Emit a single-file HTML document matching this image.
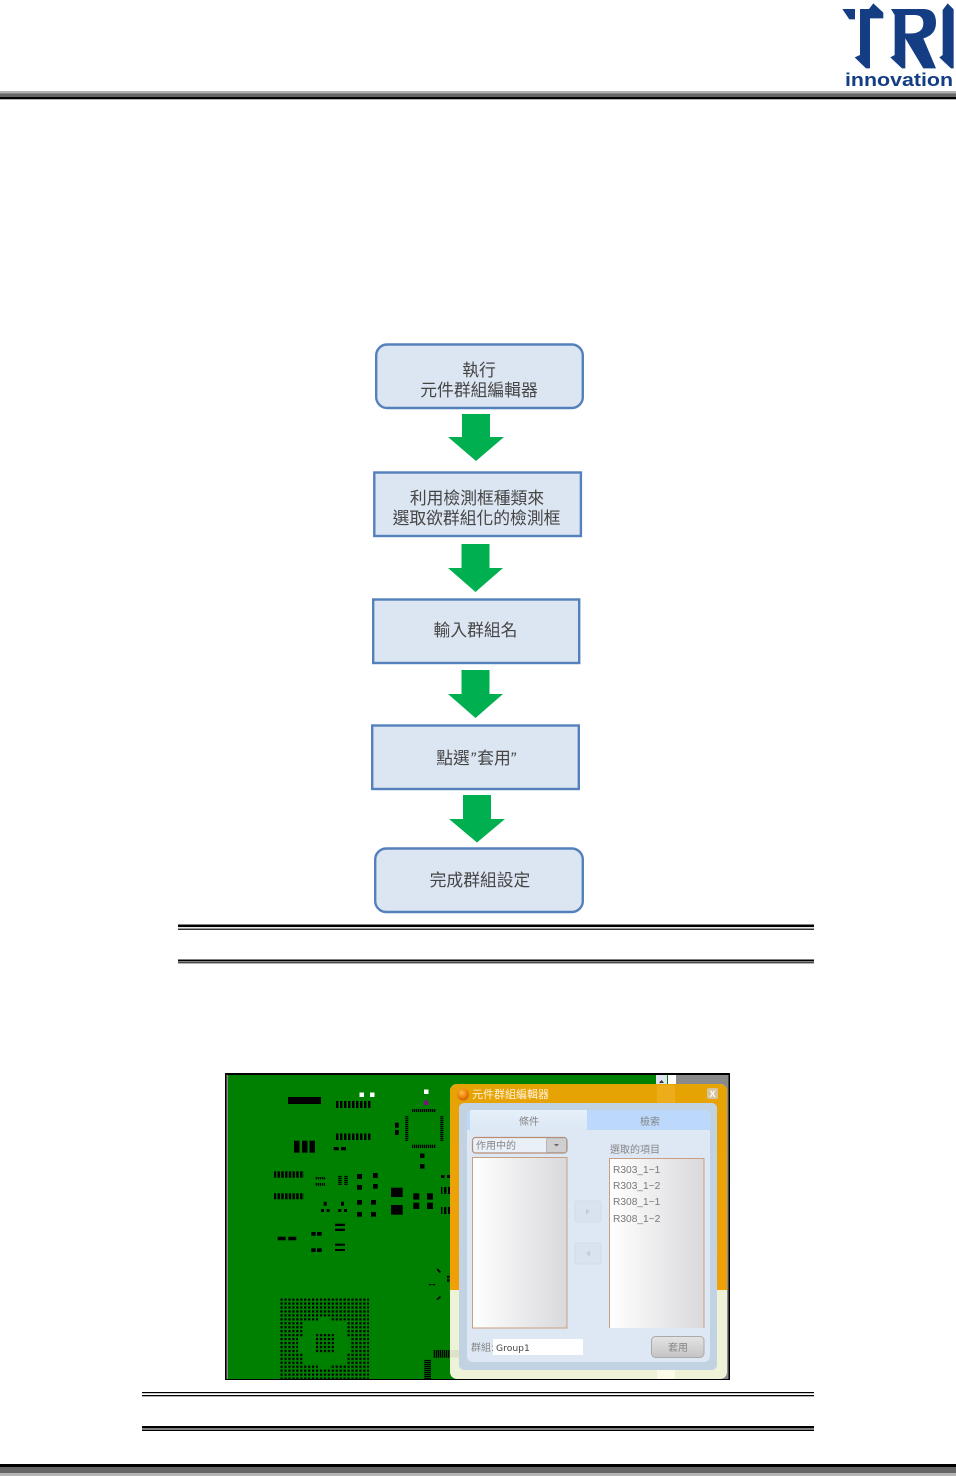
<!DOCTYPE html>
<html lang="zh-Hant">
<head>
<meta charset="utf-8">
<title>元件群組編輯器</title>
<style>
html,body{margin:0;padding:0;background:#fff;width:956px;height:1476px;overflow:hidden}
svg{display:block}
text{font-family:"Liberation Sans","Noto Sans CJK TC",sans-serif}
.t{font-size:16.8px;fill:#454545;text-anchor:middle}
.d{font-size:10px;fill:#858585}
.r{font-size:10.2px;fill:#777}
</style>
</head>
<body>
<svg width="956" height="1476" viewBox="0 0 956 1476" xmlns="http://www.w3.org/2000/svg">
<defs>
<pattern id="pv" width="4" height="10" patternUnits="userSpaceOnUse"><rect width="2.4" height="10" fill="#000"/></pattern>
<pattern id="pv3" width="3.75" height="10" patternUnits="userSpaceOnUse"><rect width="2.5" height="10" fill="#000"/></pattern>
<pattern id="pt" width="2" height="10" patternUnits="userSpaceOnUse"><rect width="1.3" height="10" fill="#000"/></pattern>
<pattern id="ph" width="10" height="2" patternUnits="userSpaceOnUse"><rect width="10" height="1.3" fill="#000"/></pattern>
<pattern id="bga" x="280.500" y="1298.500" width="3.940" height="3.950" patternUnits="userSpaceOnUse"><rect width="2.200" height="2.200" fill="#000"/></pattern>
<linearGradient id="lg"><stop offset="0" stop-color="#fff"/><stop offset="1" stop-color="#d9d9dc"/></linearGradient>
<linearGradient id="bt" x2="0" y2="1"><stop offset="0" stop-color="#e4e4e4"/><stop offset=".5" stop-color="#d4d4d4"/><stop offset="1" stop-color="#c4c4c4"/></linearGradient>
<linearGradient id="tb" x2="0" y2="1"><stop offset="0" stop-color="#e6f0fa"/><stop offset="1" stop-color="#dde8f5"/></linearGradient>
<linearGradient id="og" x2="0" y2="1"><stop offset="0" stop-color="#e6a304"/><stop offset="1" stop-color="#f1a007"/></linearGradient>
<radialGradient id="ball" cx=".4" cy=".35" r=".7"><stop offset="0" stop-color="#ffc040"/><stop offset=".6" stop-color="#ee7f0c"/><stop offset="1" stop-color="#c85c00"/></radialGradient>
</defs>

<!-- header -->
<g transform="translate(840 0) scale(.3333)" fill="#143d84">
<path d="M7 27H45V58H28Z"/>
<path d="M60 27H87L100 10L130 38V55H90V205H78L44 172L60 165Z"/>
<path fill-rule="evenodd" d="M153 27H250Q288 27 288 68Q288 105 250 115L288 205H250L196 115V205H186L151 172L164 165V45ZM196 45V100Q250 105 250 70Q250 45 223 45Z"/>
<path d="M323 10L341 28V205H333L298 172L308 165V30Z"/>
</g>
<text x="845" y="86" font-size="18.5" font-weight="bold" fill="#143d84" textLength="108" lengthAdjust="spacingAndGlyphs">innovation</text>
<rect x="0" y="91" width="956" height="2.300" fill="#b0b0b0"/>
<rect x="0" y="93.300" width="956" height="3.700" fill="#666"/>
<rect x="0" y="97" width="956" height="2.300" fill="#000"/>

<!-- flowchart -->
<g fill="#dce6f2" stroke="#5480bb" stroke-width="2.400">
<rect x="376.200" y="344.500" width="206.600" height="63.500" rx="11"/>
<rect x="374.300" y="472.500" width="206.600" height="63.500"/>
<rect x="373.200" y="599.500" width="206" height="63.500"/>
<rect x="372.200" y="725.500" width="206.600" height="63.500"/>
<rect x="375.200" y="848.500" width="207.600" height="63.500" rx="11"/>
</g>
<g fill="#00b050">
<path d="M462 414H490V437H504L476 461L448 437H462Z"/>
<path d="M461.500 544H489.500V568H503L475.500 592L448 568H461.500Z"/>
<path d="M461.500 670H489.500V694H503L475.500 718L448 694H461.500Z"/>
<path d="M463 795H491V819H505L477 842.500L449 819H463Z"/>
</g>
<text class="t" x="479" y="376">執行</text>
<text class="t" x="479" y="396">元件群組編輯器</text>
<text class="t" x="477" y="504">利用檢測框種類來</text>
<text class="t" x="476.500" y="524">選取欲群組化的檢測框</text>
<text class="t" x="475.500" y="636">輸入群組名</text>
<text class="t" x="453" y="764">點選</text>
<text x="470" y="764" font-size="16.800" font-style="italic" fill="#454545">”</text>
<text class="t" x="494" y="764">套用</text>
<text x="510" y="764" font-size="16.800" font-style="italic" fill="#454545">”</text>
<text class="t" x="480" y="886">完成群組設定</text>

<!-- rules -->
<g fill="#000">
<rect x="178" y="924.500" width="636" height="2.600"/>
<rect x="178" y="928.600" width="636" height="1.200"/>
<rect x="178" y="959.500" width="636" height="2"/>
<rect x="178" y="962.300" width="636" height="1"/>
<rect x="142" y="1392" width="672" height="1.200"/>
<rect x="142" y="1395" width="672" height="1.300"/>
<rect x="142" y="1426" width="672" height="2.500"/>
<rect x="142" y="1429.500" width="672" height="1.500"/>
</g>

<!-- screenshot -->
<rect x="225" y="1073" width="505" height="307" fill="#000"/>
<rect x="226.500" y="1075" width="502" height="304" fill="#8a8a8a"/>
<rect x="228" y="1075" width="448" height="304" fill="#008000"/>
<rect x="656" y="1075" width="11" height="10" fill="#dfe6f2"/>
<path d="M659 1083l2.500-3 2.500 3z" fill="#333"/>
<rect x="668" y="1075" width="8" height="10" fill="#fff"/>

<!-- PCB -->
<g fill="#000">
<rect x="288" y="1097" width="33" height="7"/>
<rect x="335" y="1101" width="37" height="7" fill="url(#pv)"/>
<rect x="335" y="1133.500" width="37" height="6.500" fill="url(#pv)"/>
<rect x="294" y="1140.700" width="5.500" height="12"/><rect x="302" y="1140.700" width="5.500" height="12"/><rect x="309.500" y="1140.700" width="5.500" height="12"/>
<rect x="333.700" y="1147" width="5" height="3.300"/><rect x="341" y="1147" width="5" height="3.300"/>
<rect x="412" y="1109" width="24" height="3" fill="url(#pt)"/><rect x="412" y="1144.700" width="24" height="3.300" fill="url(#pt)"/>
<rect x="405.300" y="1116" width="3" height="25" fill="url(#ph)"/><rect x="440.300" y="1116" width="3" height="25" fill="url(#ph)"/>
<rect x="395" y="1122.700" width="3.700" height="5"/><rect x="395" y="1130" width="3.700" height="5"/>
<rect x="420" y="1153.500" width="4.500" height="4.500"/><rect x="420" y="1164" width="4.500" height="4.700"/>
<rect x="274" y="1171.300" width="30" height="6.400" fill="url(#pv3)"/>
<rect x="274" y="1193.300" width="30" height="6" fill="url(#pv3)"/>
<rect x="315" y="1177" width="10" height="2.300" fill="url(#pt)"/><rect x="315" y="1183" width="10" height="2.700" fill="url(#pt)"/>
<rect x="338.300" y="1175.300" width="3.400" height="9.700" fill="url(#ph)"/><rect x="344.300" y="1175.300" width="3.400" height="9.700" fill="url(#ph)"/>
<rect x="357" y="1174" width="5" height="5"/><rect x="373" y="1173" width="4.700" height="5"/>
<rect x="357" y="1185" width="5" height="4.700"/><rect x="373" y="1184" width="4.700" height="4.700"/>
<rect x="357" y="1200" width="5" height="4.700"/><rect x="371" y="1200" width="5" height="4.700"/>
<rect x="357" y="1212" width="5" height="4.700"/><rect x="371" y="1212" width="5" height="4.700"/>
<rect x="391" y="1187.700" width="11.700" height="9.300"/><rect x="391" y="1205" width="11.700" height="9.700"/>
<rect x="413.300" y="1193.300" width="6" height="6.300"/><rect x="427" y="1193.300" width="6" height="6.300"/>
<rect x="413.300" y="1202.700" width="6" height="6.300"/><rect x="427" y="1202.700" width="6" height="6.300"/>
<rect x="441" y="1175" width="3.500" height="3"/><rect x="447" y="1175" width="3.500" height="3"/>
<rect x="441" y="1187" width="10" height="7" fill="url(#pv)"/><rect x="441" y="1207" width="10" height="7" fill="url(#pv)"/>
<rect x="323.700" y="1201.700" width="3" height="4"/><rect x="321" y="1209" width="3" height="3"/><rect x="326.700" y="1209" width="3" height="3"/>
<rect x="341" y="1201.700" width="3" height="4"/><rect x="338.300" y="1209" width="3" height="3"/><rect x="344" y="1209" width="3" height="3"/>
<rect x="335" y="1223.700" width="10" height="2.300"/><rect x="335" y="1228.700" width="10" height="2.300"/>
<rect x="335" y="1243.700" width="10" height="2"/><rect x="335" y="1249" width="10" height="2"/>
<rect x="277.700" y="1236.700" width="8" height="3.600"/><rect x="288.300" y="1236.700" width="8" height="3.600"/>
<rect x="311.300" y="1232" width="4.400" height="3.700"/><rect x="317" y="1232" width="4.700" height="3.700"/>
<rect x="311.300" y="1248.300" width="4.400" height="3.700"/><rect x="317" y="1248.300" width="4.700" height="3.700"/>
<rect x="280" y="1298.300" width="89" height="80.700" fill="url(#bga)"/>
<g fill="#008000">
<rect x="302.700" y="1321.500" width="44" height="42.500"/>
<rect x="298" y="1337" width="53" height="16"/>
<rect x="318" y="1316.500" width="12" height="52.500"/>
</g>
<rect x="315.700" y="1334" width="18.600" height="19" fill="url(#bga)"/>
<rect x="433" y="1350" width="25" height="7.700" fill="url(#pt)"/>
<rect x="424.300" y="1359.300" width="6.700" height="19.700" fill="url(#ph)"/>
<path d="M436.500 1269.500l1.500-1 3 3.500-1.500 1zM436.500 1299l3.500-3 1 1.200-3.500 3z"/>
<rect x="447" y="1275.700" width="2.500" height="2.500"/><rect x="447" y="1279.200" width="2.500" height="2.500"/>
<rect x="429" y="1284" width="2.500" height="1.200"/><rect x="432.500" y="1284" width="2.500" height="1.200"/>
</g>
<rect x="359.500" y="1092.500" width="4.500" height="4.500" fill="#fff"/>
<rect x="370" y="1092.500" width="4.500" height="4.500" fill="#fff"/>
<rect x="424" y="1089.500" width="4.500" height="4.500" fill="#fff"/>
<rect x="424" y="1100.500" width="4.500" height="4.500" fill="#7a1380"/>

<!-- dialog -->
<rect x="450" y="1084" width="277" height="295" rx="7" fill="#eef2d6"/>
<path d="M450 1290V1091a7 7 0 0 1 7-7H720a7 7 0 0 1 7 7V1290Z" fill="url(#og)"/>
<rect x="657" y="1085" width="18" height="18" fill="#f7b83a" opacity=".4"/>
<rect x="657" y="1370" width="18" height="9" fill="#fbfbe8"/>
<rect x="450" y="1350" width="9" height="7.500" fill="#b9c8a8" opacity=".35"/>
<rect x="459" y="1103" width="258" height="267" rx="5" fill="#c1d3e3"/>
<rect x="467" y="1110" width="243" height="252" rx="6" fill="#dee8f5"/>
<path d="M587 1110H704a6 6 0 0 1 6 6V1130H587Z" fill="#bcd8fb"/>
<path d="M467 1130V1116a6 6 0 0 1 6-6H587V1130Z" fill="url(#tb)"/>
<path d="M467 1130V1116a6 6 0 0 1 3-5V1130Z" fill="#bcd8fb"/>
<circle cx="463" cy="1094.500" r="6" fill="url(#ball)"/>
<text x="472" y="1098" font-size="11" fill="#fff3dc">元件群組編輯器</text>
<rect x="707" y="1088" width="11" height="11" rx="2" fill="#d6c4a0"/>
<text x="712.500" y="1097" font-size="9" font-weight="bold" fill="#fff" text-anchor="middle">X</text>
<text class="d" x="529" y="1125" text-anchor="middle">條件</text>
<text class="d" x="650" y="1125" text-anchor="middle">檢索</text>

<rect x="472.500" y="1137.500" width="94.500" height="15.500" rx="3" fill="#eaf0f8" stroke="#b98d74" stroke-width="1.200"/>
<rect x="546.500" y="1138" width="20" height="14.500" rx="2" fill="#cfcfcf" stroke="#999" stroke-width=".6"/>
<path d="M554 1144h5l-2.500 2.500z" fill="#666"/>
<text class="d" x="476" y="1149">作用中的</text>
<text class="d" x="610" y="1153">選取的項目</text>

<rect x="472.500" y="1157.500" width="94.500" height="170.500" fill="url(#lg)" stroke="#c99f84"/>
<path d="M609.500 1328V1158.500H704V1328" fill="url(#lg)" stroke="#c99f84"/>
<text class="r" x="613" y="1173">R303_1~1</text>
<text class="r" x="613" y="1189">R303_1~2</text>
<text class="r" x="613" y="1205">R308_1~1</text>
<text class="r" x="613" y="1222">R308_1~2</text>

<rect x="575" y="1201" width="26" height="21" rx="2" fill="#d8e3ef" stroke="#d2dde9"/>
<path d="M586 1208.500l4 3-4 3z" fill="#c2ccd8"/>
<rect x="575" y="1243" width="26" height="21" rx="2" fill="#d8e3ef" stroke="#d2dde9"/>
<path d="M590 1250.500l-4 3 4 3z" fill="#c2ccd8"/>

<text class="d" x="471" y="1351">群組:</text>
<rect x="493" y="1339" width="90" height="16" fill="#fff"/>
<text x="496" y="1351" font-size="9.200" fill="#444" style="font-family:'DejaVu Sans',sans-serif">Group1</text>
<rect x="651.500" y="1336.500" width="52.500" height="21" rx="4" fill="url(#bt)" stroke="#aaa"/>
<text class="d" x="678" y="1351" text-anchor="middle" fill="#777">套用</text>

<!-- footer -->
<rect x="0" y="1464" width="956" height="3" fill="#000"/>
<rect x="0" y="1467" width="956" height="6" fill="#666"/>
<rect x="0" y="1473" width="956" height="3" fill="#b5b5b5"/>
</svg>
</body>
</html>
